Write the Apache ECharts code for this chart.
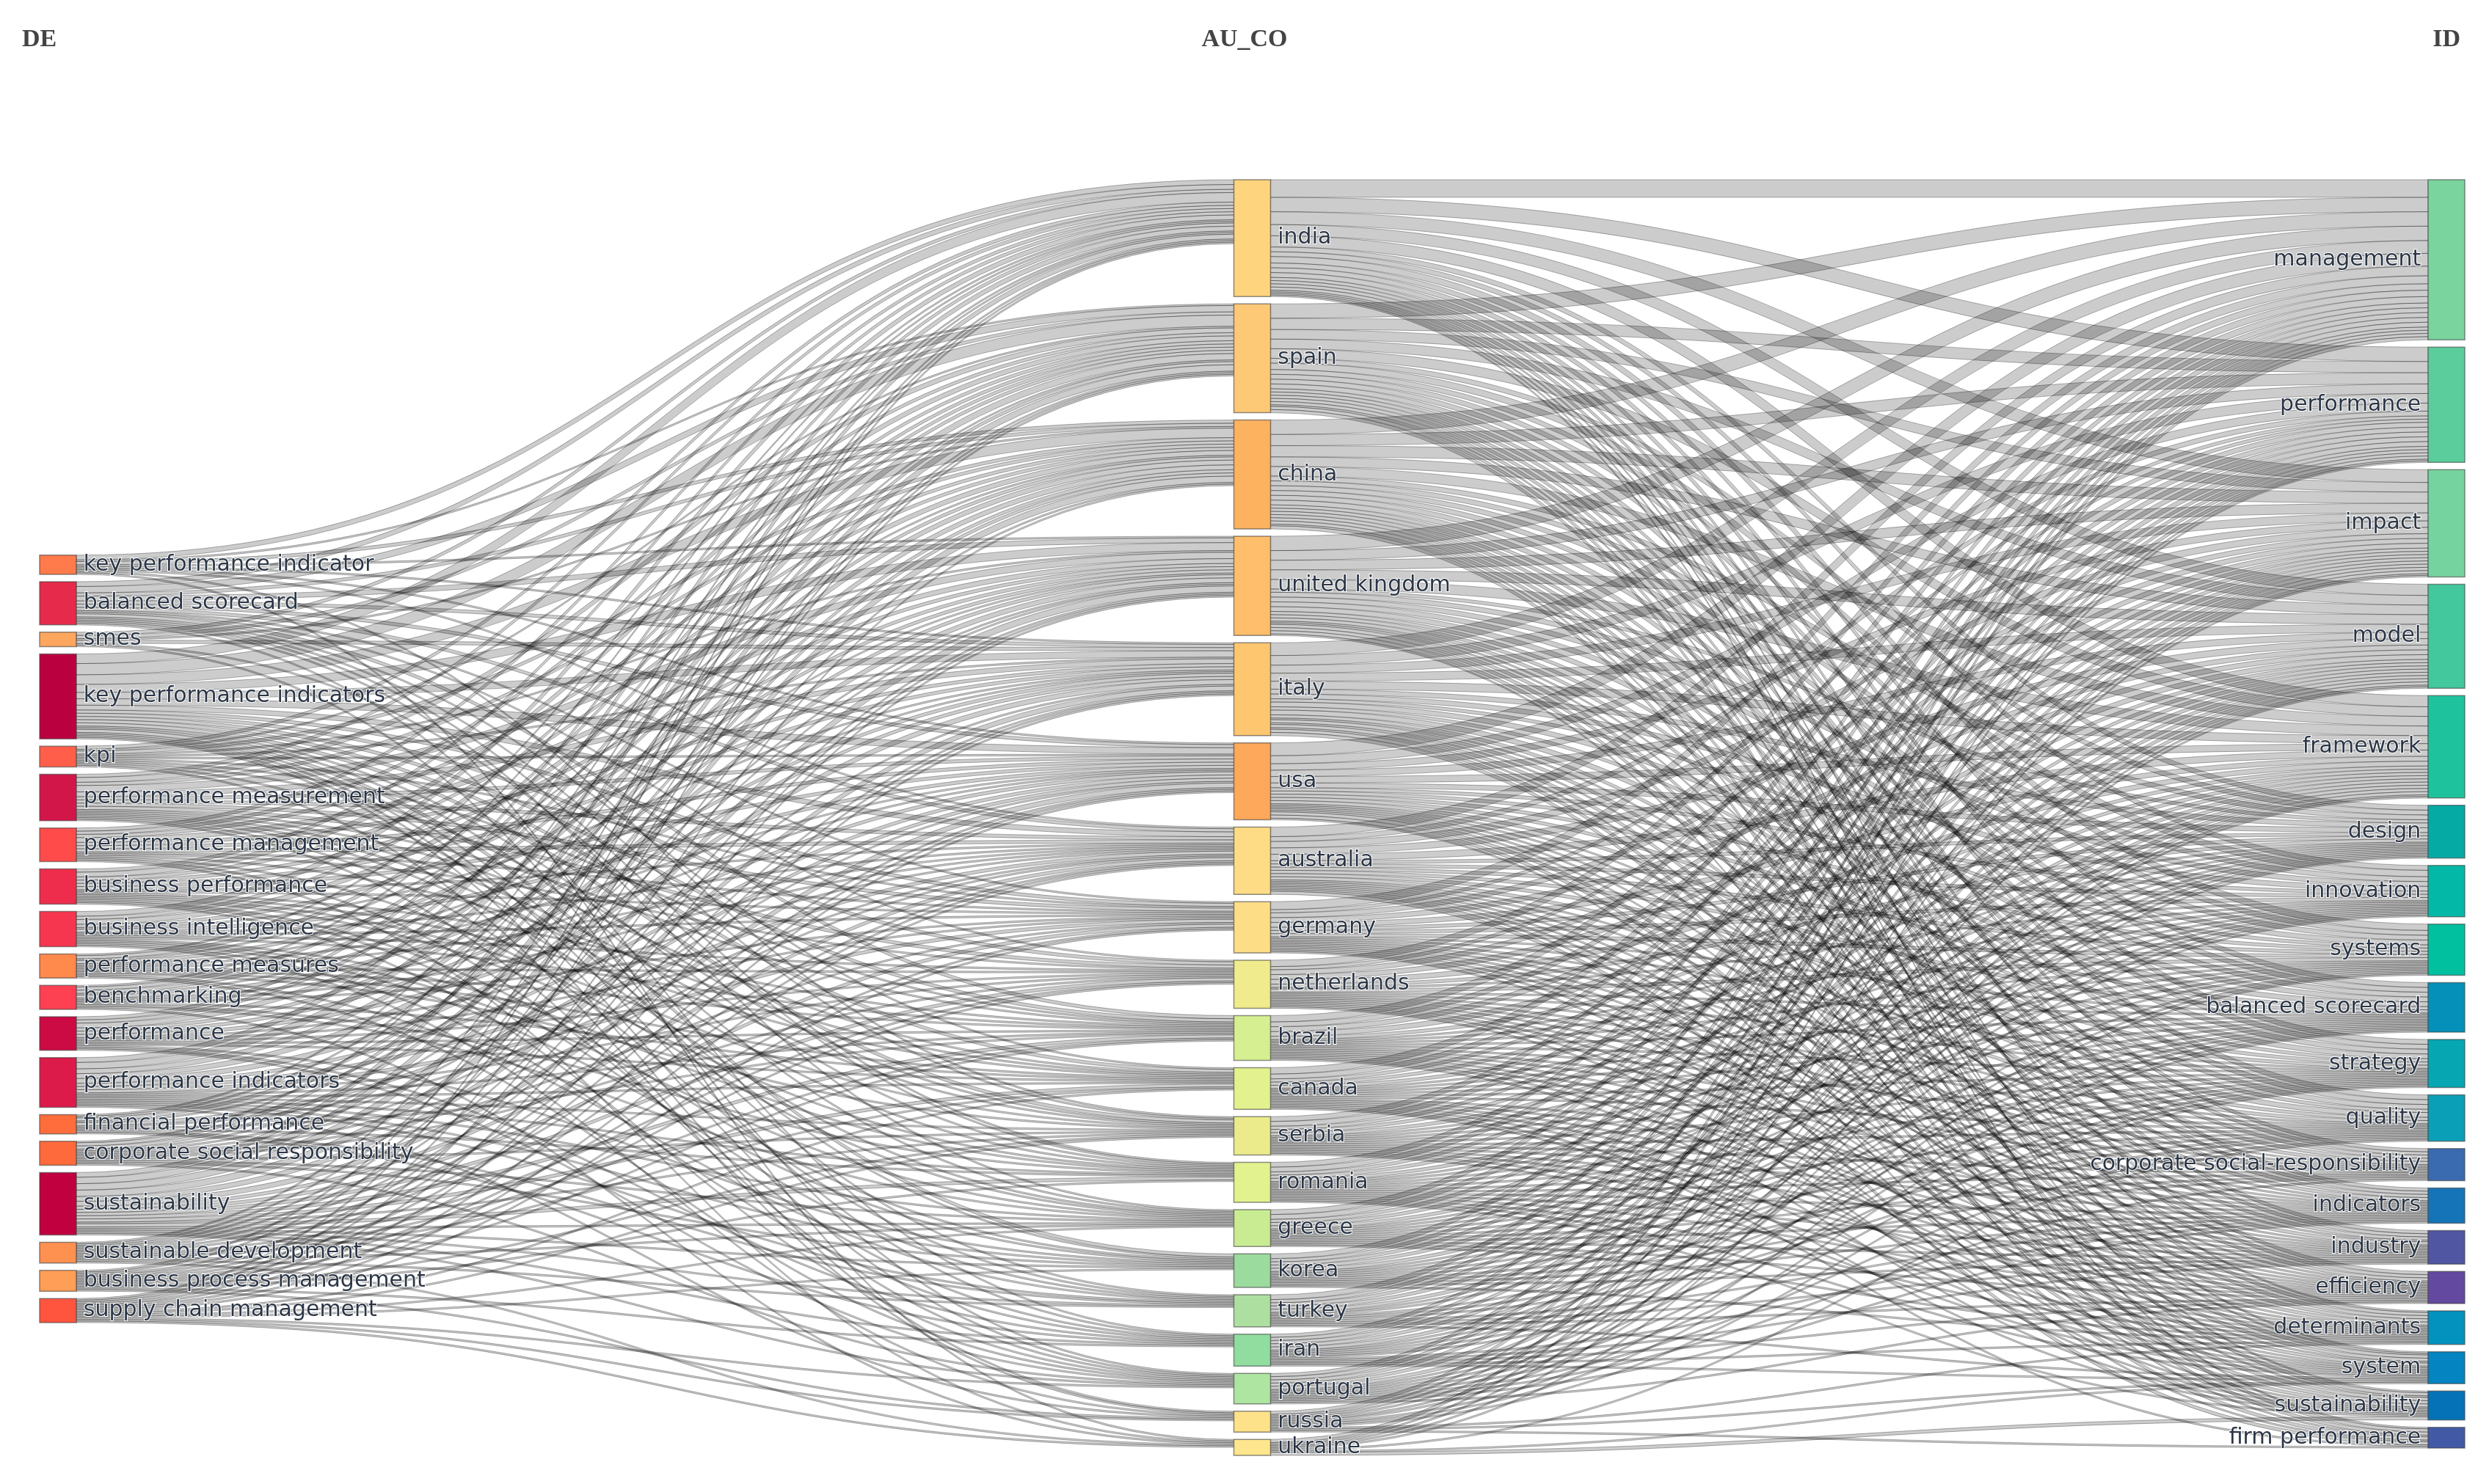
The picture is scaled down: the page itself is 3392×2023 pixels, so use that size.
<!DOCTYPE html>
<html>
<head>
<meta charset="utf-8">
<title>Three-field plot</title>
<script src="https://cdn.jsdelivr.net/npm/echarts@6/dist/echarts.min.js"></script>
<style>
  html, body { margin: 0; padding: 0; background: #fff; }
  #chart { width: 3392px; height: 2023px; }
</style>
</head>
<body>
<div id="chart"></div>
<script>
// left field: author keywords (DE)
const deTerms = ['key performance indicator', 'balanced scorecard', 'smes', 'key performance indicators', 'kpi',
  'performance measurement', 'performance management', 'business performance', 'business intelligence',
  'performance measures', 'benchmarking', 'performance', 'performance indicators', 'financial performance',
  'corporate social responsibility', 'sustainability', 'sustainable development', 'business process management',
  'supply chain management']
const deColors = ['#ff7b4b', '#e62a4b', '#fda65d', '#bb003f', '#ff5f4a', '#d3164a', '#ff4c4a', '#ee2d4c', '#f6354f',
  '#ff8a4c', '#fd4052', '#cc0a44', '#dc1b4a', '#ff6d3d', '#ff6a3c', '#c0003f', '#ff9150', '#ff9e57', '#ff553f']

// middle field: countries (AU_CO)
const countries = ['india', 'spain', 'china', 'united kingdom', 'italy', 'usa', 'australia', 'germany', 'netherlands',
  'brazil', 'canada', 'serbia', 'romania', 'greece', 'korea', 'turkey', 'iran', 'portugal', 'russia', 'ukraine']
const countryColors = ['#fed47f', '#fec977', '#fdb25f', '#febe6b', '#fec66f', '#fda85a', '#fedc86', '#fedd87', '#f0eb8c',
  '#d5ef91', '#e3f18f', '#eceb8c', '#e1f28f', '#c9ec93', '#9bdb9d', '#ade0a0', '#91dda0', '#aee5a1', '#fde28a', '#fde68d']

// right field: keywords plus (ID)
const idTerms = ['management', 'performance', 'impact', 'model', 'framework', 'design', 'innovation', 'systems',
  'balanced scorecard', 'strategy', 'quality', 'corporate social-responsibility', 'indicators', 'industry',
  'efficiency', 'determinants', 'system', 'sustainability', 'firm performance']
const idColors = ['#7ad49d', '#5bcc9c', '#74d39e', '#43c79d', '#1ec39d', '#05aaa5', '#04b8a8', '#01c0a0', '#0490b8',
  '#06a6b2', '#0a9fb6', '#3a6ab0', '#1574b7', '#5156a3', '#6449a0', '#0391be', '#0484c0', '#0572b8', '#4259a6']

// DE -> AU_CO flows (rows: deTerms, cols: countries)
const deToCountry = [
  [3, 1, 2, 1, 1, 1, 1, 0, 0, 0, 0, 1, 0, 0, 0, 0, 0, 0, 0, 1],
  [3, 4, 2, 3, 2, 2, 2, 1, 1, 2, 1, 1, 1, 1, 0, 0, 1, 0, 0, 0],
  [2, 2, 1, 0, 2, 0, 0, 0, 0, 0, 0, 0, 1, 0, 0, 0, 0, 1, 0, 0],
  [6, 7, 6, 5, 4, 4, 3, 2, 2, 2, 2, 2, 1, 1, 2, 1, 1, 1, 1, 0],
  [2, 1, 2, 1, 1, 1, 0, 1, 0, 1, 0, 1, 0, 0, 1, 0, 0, 0, 1, 0],
  [2, 3, 2, 4, 3, 2, 2, 2, 2, 1, 1, 1, 1, 1, 0, 1, 0, 1, 0, 0],
  [2, 2, 2, 3, 2, 2, 2, 1, 1, 0, 1, 0, 0, 1, 0, 0, 1, 0, 0, 1],
  [2, 3, 2, 2, 2, 2, 1, 1, 0, 1, 1, 1, 1, 0, 1, 1, 0, 1, 0, 0],
  [3, 2, 3, 2, 1, 2, 1, 1, 1, 1, 0, 0, 1, 1, 1, 0, 1, 0, 1, 0],
  [1, 2, 1, 2, 1, 1, 1, 0, 1, 1, 1, 1, 0, 0, 0, 1, 0, 1, 0, 0],
  [1, 2, 2, 1, 2, 1, 1, 1, 0, 0, 1, 0, 1, 1, 0, 0, 0, 0, 0, 1],
  [2, 2, 3, 2, 2, 2, 1, 1, 1, 1, 1, 0, 0, 0, 1, 0, 1, 1, 0, 0],
  [3, 4, 3, 3, 3, 2, 2, 2, 1, 1, 1, 1, 1, 1, 1, 1, 0, 0, 1, 0],
  [1, 1, 2, 1, 0, 2, 1, 0, 0, 1, 0, 0, 1, 0, 0, 1, 1, 0, 0, 0],
  [1, 2, 2, 1, 1, 1, 1, 1, 1, 0, 0, 1, 0, 1, 1, 0, 0, 1, 0, 0],
  [3, 4, 4, 4, 3, 3, 2, 2, 2, 2, 2, 1, 2, 1, 1, 1, 1, 1, 0, 0],
  [1, 1, 1, 1, 1, 1, 1, 0, 1, 1, 1, 0, 0, 1, 0, 1, 0, 0, 0, 1],
  [1, 1, 0, 1, 1, 1, 1, 1, 1, 1, 0, 1, 1, 0, 0, 0, 1, 0, 1, 0],
  [1, 1, 1, 1, 1, 1, 1, 1, 0, 0, 1, 1, 0, 1, 1, 0, 0, 1, 1, 1]
]

// AU_CO -> ID flows (rows: countries, cols: idTerms)
const countryToId = [
  [11, 9, 8, 7, 7, 3, 3, 4, 3, 3, 3, 2, 2, 2, 2, 1, 1, 1, 1],
  [9, 7, 6, 6, 6, 3, 4, 3, 3, 3, 3, 2, 2, 2, 2, 2, 1, 2, 2],
  [9, 7, 7, 6, 6, 3, 3, 3, 3, 3, 3, 2, 2, 2, 2, 2, 2, 1, 2],
  [9, 6, 6, 6, 6, 2, 3, 3, 3, 3, 2, 2, 2, 1, 1, 2, 2, 2, 1],
  [8, 6, 5, 5, 5, 3, 3, 2, 3, 2, 3, 2, 1, 2, 1, 2, 1, 2, 2],
  [8, 5, 4, 4, 4, 3, 2, 2, 2, 2, 2, 1, 1, 1, 1, 1, 2, 2, 1],
  [6, 3, 4, 4, 4, 2, 2, 2, 2, 2, 2, 1, 1, 1, 1, 1, 1, 1, 2],
  [5, 2, 3, 3, 3, 2, 2, 2, 1, 1, 1, 1, 1, 1, 1, 1, 1, 1, 0],
  [4, 2, 3, 3, 3, 2, 1, 2, 1, 1, 1, 1, 1, 1, 1, 1, 1, 1, 0],
  [4, 3, 3, 3, 2, 1, 1, 1, 1, 1, 1, 1, 1, 1, 1, 1, 1, 1, 0],
  [4, 3, 2, 2, 2, 1, 1, 1, 1, 1, 1, 0, 1, 1, 1, 1, 1, 1, 1],
  [3, 3, 2, 2, 2, 1, 1, 1, 1, 1, 1, 1, 1, 1, 1, 1, 1, 0, 0],
  [3, 3, 2, 2, 2, 1, 1, 1, 1, 1, 1, 1, 1, 1, 1, 1, 1, 1, 0],
  [3, 3, 2, 2, 2, 1, 1, 1, 1, 1, 1, 1, 1, 1, 1, 1, 0, 0, 0],
  [3, 2, 2, 2, 2, 1, 1, 1, 1, 1, 1, 1, 1, 1, 0, 1, 0, 0, 0],
  [3, 2, 2, 2, 2, 1, 1, 0, 1, 1, 1, 0, 1, 1, 1, 0, 1, 0, 0],
  [2, 2, 2, 2, 2, 1, 1, 1, 1, 1, 0, 0, 1, 1, 1, 1, 1, 0, 0],
  [2, 2, 2, 2, 2, 1, 1, 1, 1, 1, 1, 1, 1, 0, 1, 0, 0, 0, 0],
  [2, 1, 1, 1, 1, 1, 0, 1, 1, 1, 0, 0, 0, 0, 0, 1, 1, 0, 1],
  [2, 1, 1, 1, 1, 0, 0, 0, 0, 0, 1, 0, 0, 0, 0, 0, 1, 2, 0]
]

// empty block above the DE column, pushes that column down like the original
const dePadding = 230

const chart = echarts.init(document.getElementById('chart'))

const labelStyle = {
  color: '#2b3646',
  fontFamily: 'DejaVu Sans',
  fontSize: 30,
  textBorderColor: '#fff',
  textBorderWidth: 2,
  distance: 9,
  formatter: p => p.name.split('|')[1]
}

const nodes = [{
  name: 'DE|',
  depth: 0,
  value: dePadding,
  itemStyle: { color: 'rgba(0,0,0,0)', borderWidth: 0 },
  label: { show: false }
}]
deTerms.forEach((t, i) => nodes.push({ name: 'DE|' + t, depth: 0, itemStyle: { color: deColors[i] } }))
countries.forEach((t, i) => nodes.push({ name: 'CO|' + t, depth: 1, itemStyle: { color: countryColors[i] } }))
idTerms.forEach((t, i) => nodes.push({
  name: 'ID|' + t, depth: 2, itemStyle: { color: idColors[i] }, label: { position: 'left' }
}))

const links = []
deToCountry.forEach((row, i) => {
  row.forEach((v, j) => {
    if (v > 0) links.push({ source: 'DE|' + deTerms[i], target: 'CO|' + countries[j], value: v })
  })
})
countryToId.forEach((row, i) => {
  row.forEach((v, j) => {
    if (v > 0) links.push({ source: 'CO|' + countries[i], target: 'ID|' + idTerms[j], value: v })
  })
})

const headStyle = { color: '#444', fontFamily: 'Liberation Serif', fontSize: 34, fontWeight: 'bold' }

const option = {
  backgroundColor: '#fff',
  title: [
    { text: 'DE', left: 30, top: 37, padding: 0, textStyle: headStyle },
    { text: 'AU_CO', left: 'center', top: 37, padding: 0, textStyle: headStyle },
    { text: 'ID', right: 39, top: 37, padding: 0, textStyle: headStyle }
  ],
  series: [{
    type: 'sankey',
    left: 54,
    right: 33,
    top: 245,
    bottom: 39,
    nodeWidth: 50,
    nodeGap: 10,
    layoutIterations: 0,
    draggable: false,
    emphasis: { disabled: true },
    data: nodes,
    links: links,
    label: labelStyle,
    itemStyle: { borderColor: 'rgba(68,68,68,0.6)', borderWidth: 1.5 },
    lineStyle: {
      color: 'rgba(0,0,0,0.2)',
      opacity: 1,
      curveness: 0.5,
      borderColor: 'rgba(0,0,0,0.3)',
      borderWidth: 1
    }
  }]
}

chart.setOption(option)
</script>
</body>
</html>
